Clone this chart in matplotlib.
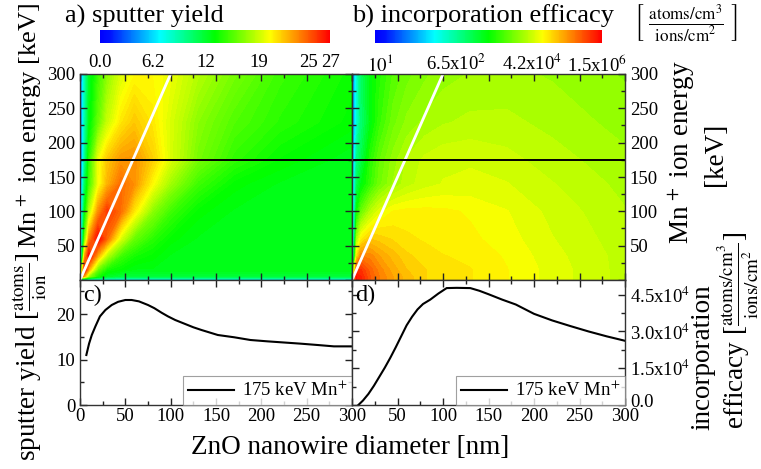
import numpy as np
import matplotlib
matplotlib.use("Agg")
import matplotlib.pyplot as plt
import matplotlib.transforms as mtransforms
from matplotlib.colors import LinearSegmentedColormap, LogNorm, Normalize
from matplotlib.cm import ScalarMappable
from matplotlib.ticker import MultipleLocator, NullLocator

plt.rcParams['font.family'] = ['Liberation Serif', 'DejaVu Serif']
plt.rcParams['mathtext.fontset'] = 'stix'

# ---- simulation grid: nanowire diameter [nm] x Mn+ ion energy [keV] ----
diameter_grid = [0, 2, 5, 10, 20, 30, 45, 60, 80, 100, 130, 170, 220, 300]
energy_grid = [0, 5, 15, 35, 60, 100, 140, 175, 230, 300]

# sputter yield [atoms/ion], rows follow energy_grid, columns diameter_grid
sputter_yield_map = [
    [0, 7, 7, 7, 7, 7, 7, 7, 7, 7, 7, 7, 7, 7],
    [0, 24, 22, 17, 14, 12.5, 12, 12, 12, 12, 12, 12, 12, 12],
    [0, 18, 27, 22, 16, 14, 13.5, 13, 13, 13, 13, 13, 13, 13],
    [0, 10, 22, 27, 22, 18, 15, 14, 13.5, 13, 13, 13, 13, 13],
    [0, 8, 16, 23, 27, 24, 19, 16, 14.5, 13.5, 13, 13, 13, 13],
    [0, 7, 13, 18, 23, 25.5, 24, 20.5, 17, 15, 13.5, 13, 13, 13],
    [0, 6, 11, 15, 19.5, 22, 24, 23, 20, 17.5, 15, 13.5, 13, 13],
    [0, 5, 9.5, 14.5, 19.5, 21.5, 22.8, 22.9, 21.3, 19, 16.5, 14.7, 13.6, 12.8],
    [0, 5, 9, 13, 16, 18.5, 20.5, 21.5, 20.5, 19, 17, 15.5, 14.5, 13.5],
    [0, 5, 9, 12.5, 15, 17, 19, 20, 20, 19.5, 18, 16.5, 15, 13.8],
]

# incorporation efficacy, log10 of [atoms/cm^3 / ions/cm^2]
efficacy_log10_map = [
    [1.0, 5.0, 6.2, 6.1, 5.8, 5.6, 5.4, 5.25, 5.1, 5.05, 5.0, 4.9, 4.75, 4.55],
    [1.0, 5.5, 6.2, 6.1, 5.8, 5.6, 5.4, 5.25, 5.1, 5.05, 5.0, 4.9, 4.75, 4.55],
    [1.0, 4.5, 6.0, 6.0, 5.75, 5.55, 5.35, 5.2, 5.1, 5.05, 5.0, 4.9, 4.75, 4.55],
    [1.0, 3.0, 5.0, 5.6, 5.55, 5.4, 5.25, 5.12, 5.05, 5.0, 4.97, 4.88, 4.73, 4.55],
    [1.0, 2.5, 4.4, 4.95, 5.2, 5.15, 5.08, 5.02, 4.98, 4.95, 4.92, 4.84, 4.7, 4.53],
    [1.0, 2.3, 3.6, 4.1, 4.5, 4.75, 4.9, 4.93, 4.93, 4.92, 4.88, 4.8, 4.66, 4.5],
    [1.0, 2.2, 3.15, 3.5, 3.85, 4.15, 4.4, 4.55, 4.65, 4.7, 4.72, 4.7, 4.6, 4.46],
    [1.0, 2.0, 2.9, 3.2, 3.78, 4.08, 4.34, 4.51, 4.62, 4.67, 4.68, 4.63, 4.54, 4.42],
    [1.0, 1.8, 2.5, 3.0, 3.5, 3.85, 4.15, 4.32, 4.42, 4.48, 4.52, 4.52, 4.46, 4.35],
    [1.0, 1.8, 2.5, 3.1, 3.55, 3.75, 4.0, 4.15, 4.27, 4.35, 4.4, 4.42, 4.38, 4.28],
]

# line-of-sight guide (white) and the 175 keV cut (black)
guide_diameter = [0, 100]
guide_energy = [0, 300]
cut_energy = 175

# 175 keV cross sections
cut_diameter_c = [7, 10, 13, 17, 22, 28, 35, 42, 50, 57, 65, 75, 82, 90, 97, 105,
                  115, 125, 134, 152, 170, 188, 207, 225, 243, 262, 280, 300]
cut_yield_c = [11.0, 13.5, 15.4, 17.3, 19.5, 20.9, 22.0, 22.7, 23.1, 23.1, 22.8, 22.0,
               21.3, 20.3, 19.5, 18.7, 17.9, 17.1, 16.5, 15.4, 14.9, 14.3, 14.0, 13.75,
               13.5, 13.2, 12.9, 12.9]

cut_diameter_d = [7, 12, 18, 24, 30, 36, 42, 48, 54, 60, 66, 72, 78, 86, 95, 104,
                  115, 130, 140, 150, 165, 180, 200, 220, 240, 260, 280, 300]
cut_efficacy_d = [0.0, 0.18e4, 0.45e4, 0.78e4, 1.15e4, 1.52e4, 1.92e4, 2.35e4, 2.8e4,
                  3.25e4, 3.6e4, 3.9e4, 4.12e4, 4.3e4, 4.55e4, 4.77e4, 4.78e4, 4.77e4,
                  4.66e4, 4.52e4, 4.3e4, 4.1e4, 3.72e4, 3.45e4, 3.22e4, 3.0e4, 2.8e4,
                  2.62e4]

yield_ticks = [0, 6.2, 12.4, 18.6, 24.8, 27]
yield_tick_labels = ['0.0', '6.2', '12', '19', '25', '27']
efficacy_ticks = [1e1, 6.5e2, 4.2e4, 1.5e6]
efficacy_tick_labels = [r'$10^1$', r'6.5x10$^2$', r'4.2x10$^4$', r'1.5x10$^6$']
efficacy_axis_ticks = [0, 1.5e4, 3.0e4, 4.5e4]
efficacy_axis_labels = ['0.0', r'1.5x10$^4$', r'3.0x10$^4$', r'4.5x10$^4$']

rainbow = LinearSegmentedColormap.from_list(
    'origin_rainbow',
    [(0.0, '#0000ff'), (0.04, '#0010ff'), (0.26, '#00ffff'), (0.5, '#00ff00'),
     (0.74, '#ffff00'), (0.87, '#ff8000'), (1.0, '#ff0000')])

W, H = 761, 469
fig = plt.figure(figsize=(W / 100, H / 100), dpi=100)
TICK_FS = 13.5
LABEL_FS = 19.5


def box(x0, y0, x1, y1):
    return [x0 / W, 1 - y1 / H, (x1 - x0) / W, (y1 - y0) / H]


def nudge(label, dx_px, dy_px):
    label.set_transform(label.get_transform() +
                        mtransforms.ScaledTranslation(dx_px / 100, dy_px / 100,
                                                      fig.dpi_scale_trans))


ax_a = fig.add_axes(box(80, 74, 352, 280))
ax_b = fig.add_axes(box(352, 74, 625, 280))
ax_c = fig.add_axes(box(80, 280, 352, 405))
ax_d = fig.add_axes(box(352, 280, 625, 405))

D, E = np.meshgrid(diameter_grid, energy_grid)
yield_norm = Normalize(0, 27)
log_lo, log_hi = 0.88, 6.30

ax_a.contourf(D, E, np.array(sputter_yield_map), levels=np.linspace(0, 27, 90),
              cmap=rainbow, norm=yield_norm, extend='both')
ax_b.contourf(D, E, np.array(efficacy_log10_map), levels=np.linspace(log_lo, log_hi, 55),
              cmap=rainbow, norm=Normalize(log_lo, log_hi), extend='both')

for ax in (ax_a, ax_b):
    ax.plot(guide_diameter, guide_energy, color='white', lw=2, solid_capstyle='butt')
    ax.axhline(cut_energy, color='black', lw=1.4)
    ax.set_xlim(0, 300)
    ax.set_ylim(0, 300)

ax_c.plot(cut_diameter_c, cut_yield_c, color='black', lw=1.5, label='175 keV Mn$^{+}$')
ax_c.set_xlim(0, 300)
ax_c.set_ylim(0, 27.5)
ax_d.plot(cut_diameter_d, cut_efficacy_d, color='black', lw=1.5, label='175 keV Mn$^{+}$')
ax_d.set_xlim(0, 300)
ax_d.set_ylim(0, 5.1e4)

for ax in (ax_a, ax_b, ax_c, ax_d):
    for s in ax.spines.values():
        s.set_color('#333333')
        s.set_linewidth(1.0)
    ax.tick_params(which='both', direction='in', top=True, right=True, left=True,
                   bottom=True, color='#222222', labelsize=TICK_FS, width=1)
    ax.tick_params(which='major', length=5)
    ax.tick_params(which='minor', length=3)
    ax.xaxis.set_major_locator(MultipleLocator(50))
    ax.xaxis.set_minor_locator(MultipleLocator(25))

for ax in (ax_a, ax_b):
    ax.yaxis.set_major_locator(MultipleLocator(50))
    ax.yaxis.set_minor_locator(MultipleLocator(25))
    ax.tick_params(labelbottom=False)
    ax.set_yticks(range(0, 301, 50))
    ax.set_yticklabels([''] + [str(v) for v in range(50, 301, 50)])
ax_b.tick_params(labelleft=False, labelright=True)

ax_c.yaxis.set_major_locator(MultipleLocator(10))
ax_c.yaxis.set_minor_locator(MultipleLocator(5))
ax_c.tick_params(axis='x', pad=2)
ax_d.set_yticks(efficacy_axis_ticks)
ax_d.set_yticklabels(efficacy_axis_labels)
ax_d.yaxis.set_minor_locator(MultipleLocator(0.75e4))
ax_d.tick_params(labelleft=False, labelright=True)
ax_d.tick_params(axis='x', pad=2)
ax_d.set_xticks(range(0, 301, 50))
ax_d.set_xticklabels([''] + [str(v) for v in range(50, 301, 50)])
# lift the "0.0" label a little above the bottom tick
nudge(ax_d.get_yticklabels()[0], 0, 5)

for ax, tag in ((ax_c, 'c)'), (ax_d, 'd)')):
    ax.text(0.012, 0.96, tag, transform=ax.transAxes, va='top', ha='left', fontsize=17.5)
    leg = ax.legend(loc='lower right', borderaxespad=0, fancybox=False,
                    edgecolor='#888888', fontsize=13.5, handlelength=2.5,
                    borderpad=0.25, handletextpad=0.4)
    leg.get_frame().set_linewidth(0.8)

# colour bars above the maps
cax_a = fig.add_axes(box(100, 30, 330, 43))
cb_a = fig.colorbar(ScalarMappable(norm=yield_norm, cmap=rainbow), cax=cax_a,
                    orientation='horizontal')
cb_a.set_ticks(yield_ticks)
cb_a.set_ticklabels(yield_tick_labels)
cax_b = fig.add_axes(box(375, 30, 602, 43))
cb_b = fig.colorbar(ScalarMappable(norm=LogNorm(10 ** log_lo, 10 ** log_hi), cmap=rainbow),
                    cax=cax_b, orientation='horizontal')
cb_b.set_ticks(efficacy_ticks)
cb_b.set_ticklabels(efficacy_tick_labels)
for cb in (cb_a, cb_b):
    cb.outline.set_visible(False)
    cb.ax.xaxis.set_minor_locator(NullLocator())
    cb.ax.tick_params(length=0, pad=8, labelsize=TICK_FS)
# keep the two closely spaced end labels apart
cb_labels = cb_a.ax.get_xticklabels()
nudge(cb_labels[4], -3, 0)
nudge(cb_labels[5], 1, 0)

# titles and axis captions
fig.text(65 / W, 1 - 16 / H, 'a) sputter yield', fontsize=19, va='center', ha='left')
fig.text(352 / W, 1 - 16 / H, 'b) incorporation efficacy', fontsize=19, va='center', ha='left')
fig.text(686 / W, 1 - 23 / H, r'$\left[\ \frac{\mathrm{atoms/cm^3}}{\mathrm{ions/cm^2}}\ \right]$',
         fontsize=17.5, va='center', ha='center')

fig.text(29 / W, 1 - 125 / H, r'Mn$^{\,+}$ ion energy [keV]', rotation=90,
         fontsize=19, va='center', ha='center')
fig.text(30 / W, 1 - 357 / H, r'sputter yield [$\frac{\mathrm{atoms}}{\mathrm{ion}}$]',
         rotation=90, fontsize=LABEL_FS, va='center', ha='center')
fig.text(682 / W, 1 - 152 / H, r'Mn$^{\,+}$ ion energy', rotation=90,
         fontsize=LABEL_FS, va='center', ha='center')
fig.text(715 / W, 1 - 154 / H, '[keV]', rotation=90, fontsize=LABEL_FS,
         va='center', ha='center')
fig.text(703 / W, 1 - 357 / H, 'incorporation', rotation=90, fontsize=LABEL_FS,
         va='center', ha='center')
fig.text(738 / W, 1 - 330 / H,
         r'efficacy [$\frac{\mathrm{atoms/cm^3}}{\mathrm{ions/cm^2}}$]',
         rotation=90, fontsize=LABEL_FS, va='center', ha='center')
fig.text(350 / W, 1 - 447 / H, 'ZnO nanowire diameter [nm]', fontsize=LABEL_FS,
         va='center', ha='center')

fig.savefig('out.png', dpi=100)
